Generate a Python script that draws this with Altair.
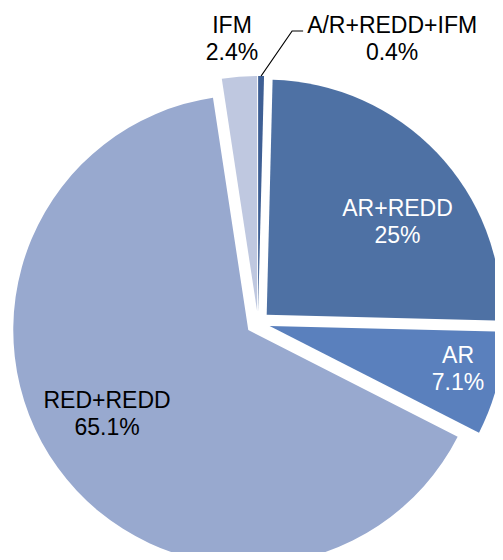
import altair as alt
import numpy as np
import pandas as pd

# ---- data ----
categories = ["A/R+REDD+IFM", "AR+REDD", "AR", "RED+REDD", "IFM"]
shares = [0.4, 25.0, 7.1, 65.1, 2.4]
share_labels = ["0.4%", "25%", "7.1%", "65.1%", "2.4%"]

# ---- style / layout ----
colors = ["#3E5F94", "#4E71A4", "#5A80BD", "#98A9CF", "#BFC8E0"]
text_colors = ["#000000", "#FFFFFF", "#FFFFFF", "#000000", "#000000"]
W, H = 487, 544
CX, CY = 250, 315          # pie centre (pixels in the view)
R = 235                    # radius
EXPLODE = 12               # slice explosion distance
FONT = "Liberation Sans"
FS = 23
LINE_GAP = 27
# label placement: distance from centre and angular nudge (deg) from slice mid-angle
label_radius = [319.5, 175.8, 204.0, 173.3, 291.0]
label_nudge = [24.1, 6.1, -2.9, 6.4, -0.8]

vals = np.array(shares, dtype=float)
total = vals.sum()
cum = np.cumsum(vals)
start = cum - vals
mid = (start + vals / 2) / total * 2 * np.pi

arcs = pd.DataFrame({
    "category": categories,
    "t0": start,
    "t1": cum,
    "cx": CX + EXPLODE * np.sin(mid),
    "cy": CY - EXPLODE * np.cos(mid),
})

ang = mid + np.radians(label_nudge)
lx = CX + np.array(label_radius) * np.sin(ang)
ly = CY - np.array(label_radius) * np.cos(ang)
labels = pd.DataFrame({
    "category": categories,
    "pct": share_labels,
    "tc": text_colors,
    "lx": lx,
    "ly1": ly,
    "ly2": ly + LINE_GAP,
})

# leader line for the smallest slice
m0 = mid[0]
leader = pd.DataFrame({
    "px": [CX + (R + EXPLODE) * np.sin(m0), lx[0] - 100, lx[0] - 89],
    "py": [CY - (R + EXPLODE) * np.cos(m0), ly[0] - 2, ly[0] - 2],
    "o": [0, 1, 2],
})

pie = alt.Chart(arcs).mark_arc(radius=R).encode(
    theta=alt.Theta("t0:Q", scale=alt.Scale(domain=[0, total], range=[0, 2 * np.pi])),
    theta2="t1:Q",
    x=alt.X("cx:Q", scale=None),
    y=alt.Y("cy:Q", scale=None),
    color=alt.Color("category:N", scale=alt.Scale(domain=categories, range=colors), legend=None),
)

line1 = alt.Chart(labels).mark_text(font=FONT, fontSize=FS, align="center", baseline="alphabetic").encode(
    x=alt.X("lx:Q", scale=None),
    y=alt.Y("ly1:Q", scale=None),
    text="category:N",
    fill=alt.Fill("tc:N", scale=None),
)
line2 = alt.Chart(labels).mark_text(font=FONT, fontSize=FS, align="center", baseline="alphabetic").encode(
    x=alt.X("lx:Q", scale=None),
    y=alt.Y("ly2:Q", scale=None),
    text="pct:N",
    fill=alt.Fill("tc:N", scale=None),
)

lead = alt.Chart(leader).mark_line(color="black", strokeWidth=1.2).encode(
    x=alt.X("px:Q", scale=None),
    y=alt.Y("py:Q", scale=None),
    order="o:Q",
)

chart = alt.layer(pie, lead, line1, line2).properties(
    width=W, height=H, autosize=alt.AutoSizeParams(type="none"), padding=0
).configure_view(stroke=None)

chart.save("out.html", embed_options={"renderer": "svg", "actions": False})
